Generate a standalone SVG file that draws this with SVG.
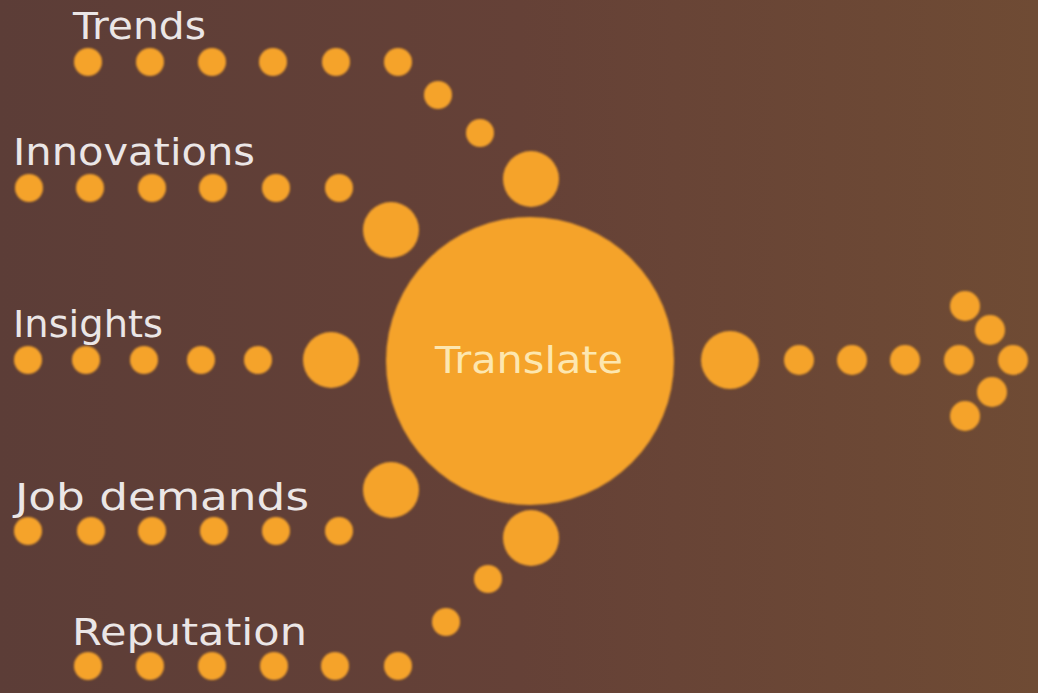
<svg xmlns="http://www.w3.org/2000/svg" width="1038" height="693" viewBox="0 0 1038 693">
  <defs>
    <linearGradient id="bg" x1="0" y1="0" x2="1" y2="0">
      <stop offset="0" stop-color="#5c3d37"/>
      <stop offset="0.5" stop-color="#654137"/>
      <stop offset="1" stop-color="#6f4b34"/>
    </linearGradient>
    <filter id="soft" x="-10%" y="-10%" width="120%" height="120%">
      <feGaussianBlur stdDeviation="0.8"/>
    </filter>
  </defs>
  <style>
    .dot { fill: #f5a32a; }
    .lbl { font-family: "DejaVu Sans", "Liberation Sans", sans-serif; font-size: 38px; fill: #ebe6e6; }
    .ctr { font-family: "DejaVu Sans", "Liberation Sans", sans-serif; font-size: 38px; fill: #fde7b0; }
  </style>
  <rect width="1038" height="693" fill="url(#bg)"/>

  <g id="connectors" filter="url(#soft)">
    <g id="chain-trends">
      <circle class="dot" cx="88" cy="62" r="14"/>
      <circle class="dot" cx="150" cy="62" r="14"/>
      <circle class="dot" cx="212" cy="62" r="14"/>
      <circle class="dot" cx="273" cy="62" r="14"/>
      <circle class="dot" cx="336" cy="62" r="14"/>
      <circle class="dot" cx="398" cy="62" r="14"/>
      <circle class="dot" cx="438" cy="95" r="14"/>
      <circle class="dot" cx="480" cy="133" r="14"/>
      <circle class="dot" cx="531" cy="179" r="28"/>
    </g>
    <g id="chain-innovations">
      <circle class="dot" cx="29" cy="188" r="14"/>
      <circle class="dot" cx="90" cy="188" r="14"/>
      <circle class="dot" cx="152" cy="188" r="14"/>
      <circle class="dot" cx="213" cy="188" r="14"/>
      <circle class="dot" cx="276" cy="188" r="14"/>
      <circle class="dot" cx="339" cy="188" r="14"/>
      <circle class="dot" cx="391" cy="230" r="28"/>
    </g>
    <g id="chain-insights">
      <circle class="dot" cx="28" cy="360" r="14"/>
      <circle class="dot" cx="86" cy="360" r="14"/>
      <circle class="dot" cx="144" cy="360" r="14"/>
      <circle class="dot" cx="201" cy="360" r="14"/>
      <circle class="dot" cx="258" cy="360" r="14"/>
      <circle class="dot" cx="331" cy="360" r="28"/>
    </g>
    <g id="chain-job">
      <circle class="dot" cx="28" cy="531" r="14"/>
      <circle class="dot" cx="91" cy="531" r="14"/>
      <circle class="dot" cx="152" cy="531" r="14"/>
      <circle class="dot" cx="214" cy="531" r="14"/>
      <circle class="dot" cx="276" cy="531" r="14"/>
      <circle class="dot" cx="339" cy="531" r="14"/>
      <circle class="dot" cx="391" cy="490" r="28"/>
    </g>
    <g id="chain-reputation">
      <circle class="dot" cx="88" cy="666" r="14"/>
      <circle class="dot" cx="150" cy="666" r="14"/>
      <circle class="dot" cx="212" cy="666" r="14"/>
      <circle class="dot" cx="274" cy="666" r="14"/>
      <circle class="dot" cx="335" cy="666" r="14"/>
      <circle class="dot" cx="398" cy="666" r="14"/>
      <circle class="dot" cx="446" cy="622" r="14"/>
      <circle class="dot" cx="488" cy="579" r="14"/>
      <circle class="dot" cx="531" cy="538" r="28"/>
    </g>
    <g id="chain-output">
      <circle class="dot" cx="730" cy="360" r="29"/>
      <circle class="dot" cx="799" cy="360" r="15"/>
      <circle class="dot" cx="852" cy="360" r="15"/>
      <circle class="dot" cx="905" cy="360" r="15"/>
      <circle class="dot" cx="959" cy="360" r="15"/>
      <circle class="dot" cx="1013" cy="360" r="15"/>
      <circle class="dot" cx="965" cy="306" r="15"/>
      <circle class="dot" cx="990" cy="330" r="15"/>
      <circle class="dot" cx="992" cy="392" r="15"/>
      <circle class="dot" cx="965" cy="416" r="15"/>
    </g>
  </g>

  <g id="node-translate">
    <circle class="dot" cx="530" cy="361" r="144" filter="url(#soft)"/>
    <text class="ctr" x="435" y="373" textLength="188" lengthAdjust="spacingAndGlyphs">Translate</text>
  </g>
  <g id="node-trends">
    <text class="lbl" x="73" y="39" textLength="133" lengthAdjust="spacingAndGlyphs">Trends</text>
  </g>
  <g id="node-innovations">
    <text class="lbl" x="13" y="165" textLength="242" lengthAdjust="spacingAndGlyphs">Innovations</text>
  </g>
  <g id="node-insights">
    <text class="lbl" x="13" y="337" textLength="150" lengthAdjust="spacingAndGlyphs">Insights</text>
  </g>
  <g id="node-job-demands">
    <text class="lbl" x="15" y="510" textLength="294" lengthAdjust="spacingAndGlyphs">Job demands</text>
  </g>
  <g id="node-reputation">
    <text class="lbl" x="72" y="645" textLength="235" lengthAdjust="spacingAndGlyphs">Reputation</text>
  </g>
</svg>
